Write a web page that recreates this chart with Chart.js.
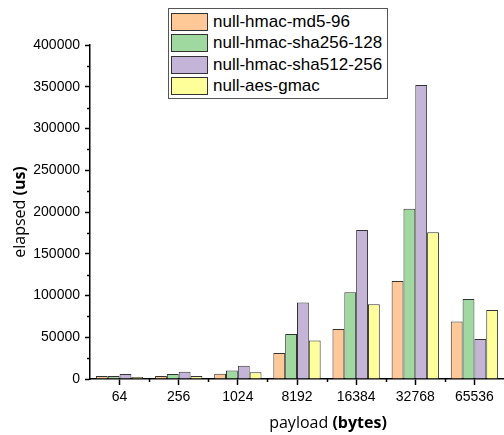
<!DOCTYPE html>
<html>
<head>
<meta charset="utf-8">
<script src="https://cdn.jsdelivr.net/npm/chart.js@4"></script>
<style>
  html, body { margin: 0; padding: 0; background: #fff; }
  #wrap { position: relative; width: 504px; height: 435px; }
  #legend { position: absolute; left: 168px; top: 8px; width: 220px; border: 1px solid #555; background: #fff;
    font-family: "Liberation Sans", Arial, sans-serif; font-size: 17px; color: #000; padding: 2px 0 1px 0; box-sizing: border-box; }
  .row { display: flex; align-items: center; height: 21.5px; }
  .sw { width: 37px; height: 18px; border: 1px solid #333; margin-left: 2px; margin-right: 5px; box-sizing: border-box; }
</style>
</head>
<body>
<div id="wrap">
  <canvas id="c" width="504" height="435"></canvas>
  <div id="legend"></div>
</div>
<script>
const categories = ["64", "256", "1024", "8192", "16384", "32768", "65536"];
const seriesNames = ["null-hmac-md5-96", "null-hmac-sha256-128", "null-hmac-sha512-256", "null-aes-gmac"];
const md5Values    = [3500, 3500, 6300, 31000, 60000, 117500, 69000];
const sha256Values = [3500, 6000, 10300, 53800, 104000, 204000, 95700];
const sha512Values = [6000, 8700, 16000, 91500, 178500, 352000, 47800];
const gmacValues   = [2500, 3500, 8000, 46000, 89500, 175700, 82500];
const yTicks = [0, 50000, 100000, 150000, 200000, 250000, 300000, 350000, 400000];
const colors = ["#FFC896", "#9FD99F", "#C3B4D8", "#FFFF99"];
const allValues = [md5Values, sha256Values, sha512Values, gmacValues];

const TICK_FONT = { family: "'Liberation Sans', Arial, sans-serif", size: 14 };

const extras = {
  id: 'extras',
  afterDraw(chart) {
    const ctx = chart.ctx;
    const x = chart.scales.x, y = chart.scales.y;
    const a = chart.chartArea;
    ctx.save();
    ctx.strokeStyle = '#000';
    ctx.lineWidth = 1.5;
    // minor y ticks
    for (let v = 25000; v < 400000; v += 50000) {
      const py = Math.round(y.getPixelForValue(v)) + 0.5;
      ctx.beginPath(); ctx.moveTo(a.left - 3, py); ctx.lineTo(a.left, py); ctx.stroke();
    }
    // minor x ticks at category boundaries
    const cw = (a.right - a.left) / categories.length;
    for (let i = 1; i < categories.length; i++) {
      const px = Math.round(a.left + i * cw) + 0.5;
      ctx.beginPath(); ctx.moveTo(px, a.bottom); ctx.lineTo(px, a.bottom + 3); ctx.stroke();
    }
    // axis titles
    ctx.fillStyle = '#000';
    ctx.textBaseline = 'middle';
    const tf = "'Open Sans', 'DejaVu Sans', sans-serif";
    // x title
    const p1 = 'payload ', p2 = '(bytes)';
    ctx.font = '16px ' + tf; const w1 = ctx.measureText(p1).width;
    ctx.font = 'bold 16px ' + tf; const w2 = ctx.measureText(p2).width;
    let sx = 328 - (w1 + w2) / 2;
    ctx.textAlign = 'left';
    ctx.font = '16px ' + tf; ctx.fillText(p1, sx, 423);
    ctx.font = 'bold 16px ' + tf; ctx.fillText(p2, sx + w1, 423);
    // y title
    const q1 = 'elapsed ', q2 = '(us)';
    ctx.font = '16px ' + tf; const v1 = ctx.measureText(q1).width;
    ctx.font = 'bold 16px ' + tf; const v2 = ctx.measureText(q2).width;
    ctx.translate(20, (a.top + a.bottom) / 2);
    ctx.rotate(-Math.PI / 2);
    const sy = -(v1 + v2) / 2;
    ctx.font = '16px ' + tf; ctx.fillText(q1, sy, 0);
    ctx.font = 'bold 16px ' + tf; ctx.fillText(q2, sy + v1, 0);
    ctx.restore();
  }
};

const chart = new Chart(document.getElementById('c'), {
  type: 'bar',
  data: {
    labels: categories,
    datasets: seriesNames.map((n, i) => ({
      label: n,
      data: allValues[i],
      backgroundColor: colors[i],
      borderColor: '#333',
      borderWidth: 1,
      categoryPercentage: 0.8,
      barPercentage: 1.0
    }))
  },
  options: {
    responsive: false,
    devicePixelRatio: 1,
    animation: false,
    layout: { padding: { top: 45, left: 0, right: 0, bottom: 0 } },
    plugins: { legend: { display: false }, tooltip: { enabled: false } },
    scales: {
      x: {
        grid: { offset: false, drawOnChartArea: false, drawTicks: true, tickLength: 6, tickColor: '#000', tickWidth: 1.5 },
        border: { color: '#000', width: 1.5 },
        ticks: { font: TICK_FONT, color: '#000', padding: 4, maxRotation: 0 },
        afterFit(s) { s.height = 56; }
      },
      y: {
        min: 0, max: 400000,
        afterBuildTicks(s) { s.ticks = yTicks.map(v => ({ value: v })); },
        grid: { drawOnChartArea: false, drawTicks: true, tickLength: 5, tickColor: '#000', tickWidth: 1.5 },
        border: { color: '#000', width: 1.5 },
        ticks: { font: TICK_FONT, color: '#000', padding: 5, callback: v => String(v) },
        afterFit(s) { s.width = 90; }
      }
    }
  },
  plugins: [extras]
});

const leg = document.getElementById('legend');
seriesNames.forEach((n, i) => {
  const r = document.createElement('div'); r.className = 'row';
  const s = document.createElement('div'); s.className = 'sw'; s.style.background = colors[i];
  const t = document.createElement('span'); t.textContent = n;
  r.appendChild(s); r.appendChild(t); leg.appendChild(r);
});
</script>
</body>
</html>
